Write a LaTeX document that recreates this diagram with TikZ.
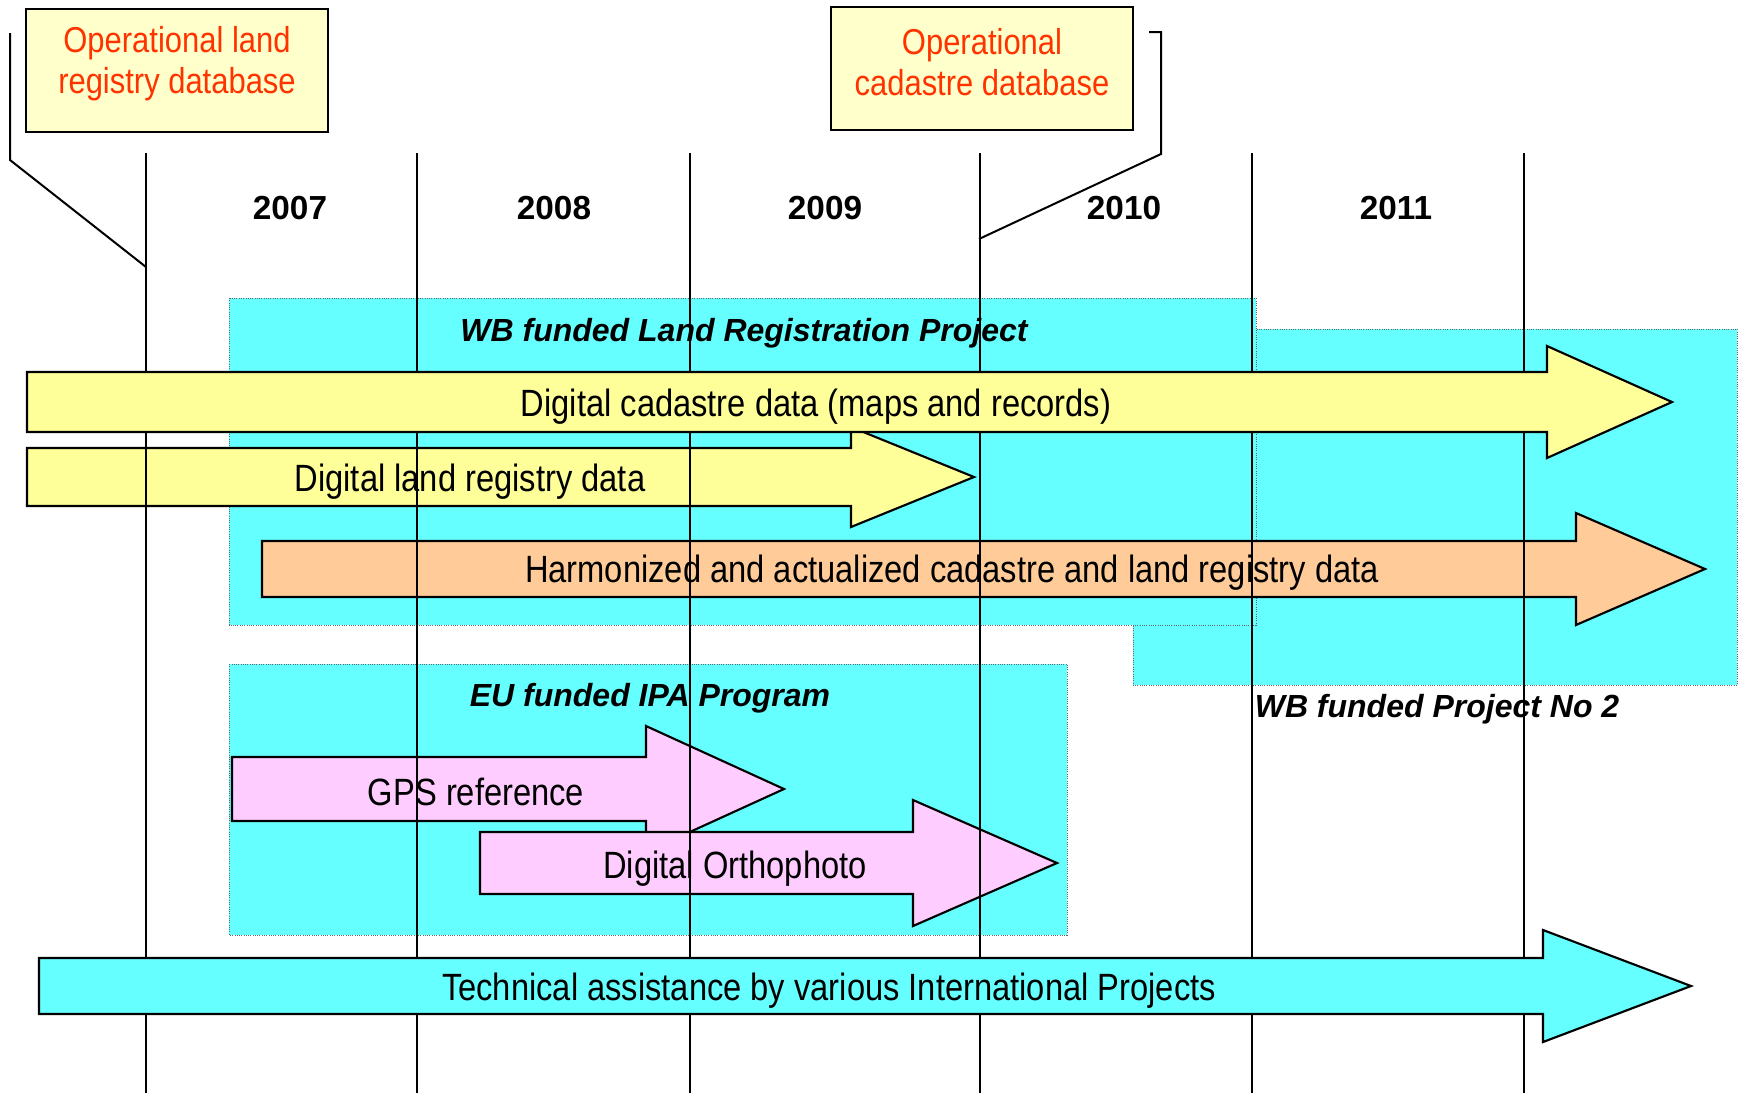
\documentclass[tikz,border=0pt]{standalone}
\usepackage{fontspec}
\setmainfont{Liberation Sans}
\newfontfamily\narrowfont[FakeStretch=0.86]{Liberation Sans}

\definecolor{boxcyan}{HTML}{66FFFF}
\definecolor{arryellow}{HTML}{FFFF99}
\definecolor{arrorange}{HTML}{FFCC99}
\definecolor{arrpink}{HTML}{FFCCFF}
\definecolor{notefill}{HTML}{FFFFCC}
\definecolor{notered}{HTML}{FF3300}

% block arrow: style, x start, x head, x tip, y centre, half body, half head
\newcommand{\blockarrow}[7]{%
  \draw[#1] (#2,#5-#6) -- (#3,#5-#6) -- (#3,#5-#7) -- (#4,#5)
    -- (#3,#5+#7) -- (#3,#5+#6) -- (#2,#5+#6) -- cycle;}

\tikzset{
  projbox/.style={fill=boxcyan,draw=black!60,densely dotted,line width=0.7pt},
  arrbody/.style={draw=black,line width=1.6pt,line join=miter,fill=#1},
  arrtext/.style={inner sep=0pt,font=\narrowfont\fontsize{28.5}{32}\selectfont},
  projlabel/.style={inner sep=0pt,font=\bfseries\itshape\fontsize{24}{28}\selectfont},
  yearlabel/.style={inner sep=0pt,font=\bfseries\fontsize{25}{29}\selectfont},
  notebox/.style={draw=black,line width=1.6pt,fill=notefill,minimum width=226.5pt,minimum height=92.25pt,inner sep=0pt},
  notetext/.style={inner sep=0pt,align=center,text=notered,font=\narrowfont\fontsize{27}{31}\selectfont},
  yearline/.style={draw=black,line width=1.6pt},
  calloutline/.style={draw=black,line width=1.5pt}
}

\begin{document}
\begin{tikzpicture}[x=0.75pt,y=-0.75pt]
\useasboundingbox (0,0) rectangle (1744,1093);

% funding boxes
\draw[projbox] (1133,329) rectangle (1737,685);
\draw[projbox] (229,298) rectangle (1256,625);
\draw[projbox] (229,664) rectangle (1067,935);
\node[projlabel] (wbone) at (744,333) {WB funded Land Registration Project};
\node[projlabel] (eulabel) at (650,698) {EU funded IPA Program};
\node[projlabel] (wbtwo) at (1437,709) {WB funded Project No 2};

% arrows under the year lines
\blockarrow{arrbody=arryellow}{27}{851}{974}{477}{29}{50}
\node[arrtext] (landreg) at (470,482) {Digital land registry data};
\blockarrow{arrbody=arrorange}{262}{1576}{1705}{569}{28}{56}
\node[arrtext] (harmon) at (952,573) {Harmonized and actualized cadastre and land registry data};
\blockarrow{arrbody=arrpink}{232}{646}{784}{789}{32}{63}
\node[arrtext] (gps) at (476,792) {GPS reference};
\blockarrow{arrbody=arrpink}{480}{913}{1057}{863}{31}{63}
\node[arrtext] (ortho) at (735,869) {Digital Orthophoto};

% year lines
\foreach \x [count=\i] in {146,417,690,980,1252,1524}{
  \coordinate (t\i) at (\x,153);
  \coordinate (b\i) at (\x,1093);
  \draw[yearline] (t\i) -- (b\i);
}
\node[yearlabel] (y2007) at (290,208) {2007};
\node[yearlabel] (y2008) at (554,208) {2008};
\node[yearlabel] (y2009) at (825,208) {2009};
\node[yearlabel] (y2010) at (1124,208) {2010};
\node[yearlabel] (y2011) at (1396,208) {2011};

% arrows over the year lines
\blockarrow{arrbody=arryellow}{27}{1547}{1672}{402}{30}{56}
\node[arrtext] (cadastre) at (816,407) {Digital cadastre data (maps and records)};
\blockarrow{arrbody=boxcyan}{39}{1543}{1691}{986}{28}{56}
\node[arrtext] (techasst) at (829,991) {Technical assistance by various International Projects};

% milestone notes
\node[notebox] (landdb) at (177,70.5) {};
\node[notetext] (landdbtext) at (177,64) {Operational land\\registry database};
\node[notebox] (caddb) at (982,68.5) {};
\node[notetext] (caddbtext) at (982,62) {Operational\\cadastre database};

\coordinate (landstart) at (10,33);
\coordinate (landbend) at (10,160);
\coordinate (landend) at (146,267);
\draw[calloutline] (landstart) -- (landbend) -- (landend);
\coordinate (cadstart) at (1149,32);
\coordinate (cadcorner) at (1161,32);
\coordinate (cadbend) at (1161,154);
\coordinate (cadend) at (979,239);
\draw[calloutline] (cadstart) -- (cadcorner) -- (cadbend) -- (cadend);
\end{tikzpicture}
\end{document}
